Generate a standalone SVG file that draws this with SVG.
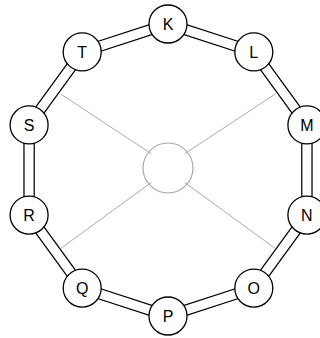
<svg xmlns="http://www.w3.org/2000/svg" width="320" height="338" viewBox="0 0 320 338">
<style>
.bg{fill:#fff}
.spoke{stroke:#aaaaaa;stroke-width:1;fill:none}
.hub{stroke:#aaaaaa;stroke-width:1.2;fill:none}
.eo{stroke:#000;stroke-width:11.5;fill:none}
.ei{stroke:#fff;stroke-width:9;fill:none}
.node circle{fill:#fff;stroke:#000;stroke-width:1.3}
.node text{font-family:"Liberation Sans",Arial,sans-serif;font-size:16px;text-anchor:middle;fill:#000}
</style>
<rect class="bg" x="0" y="0" width="320" height="338"/>
<g id="hub">
<circle class="hub" cx="168" cy="168" r="25"/>
</g>
<g id="spokes">
<line class="spoke" x1="60.7" y1="94" x2="151.5" y2="153.8"/>
<line class="spoke" x1="275.3" y1="94" x2="184.5" y2="153.8"/>
<line class="spoke" x1="61" y1="248.3" x2="151.5" y2="182.3"/>
<line class="spoke" x1="275" y1="248.3" x2="184.5" y2="182.3"/>
</g>
<g id="connectors">
<g><line class="eo" x1="168" y1="24" x2="253.8" y2="51.9"/><line class="ei" x1="168" y1="24" x2="253.8" y2="51.9"/></g>
<g><line class="eo" x1="253.8" y1="51.9" x2="306.9" y2="124.9"/><line class="ei" x1="253.8" y1="51.9" x2="306.9" y2="124.9"/></g>
<g><line class="eo" x1="306.9" y1="124.9" x2="306.9" y2="215.1"/><line class="ei" x1="306.9" y1="124.9" x2="306.9" y2="215.1"/></g>
<g><line class="eo" x1="306.9" y1="215.1" x2="253.8" y2="288.1"/><line class="ei" x1="306.9" y1="215.1" x2="253.8" y2="288.1"/></g>
<g><line class="eo" x1="253.8" y1="288.1" x2="168" y2="316"/><line class="ei" x1="253.8" y1="288.1" x2="168" y2="316"/></g>
<g><line class="eo" x1="168" y1="316" x2="82.2" y2="288.1"/><line class="ei" x1="168" y1="316" x2="82.2" y2="288.1"/></g>
<g><line class="eo" x1="82.2" y1="288.1" x2="29.1" y2="215.1"/><line class="ei" x1="82.2" y1="288.1" x2="29.1" y2="215.1"/></g>
<g><line class="eo" x1="29.1" y1="215.1" x2="29.1" y2="124.9"/><line class="ei" x1="29.1" y1="215.1" x2="29.1" y2="124.9"/></g>
<g><line class="eo" x1="29.1" y1="124.9" x2="82.2" y2="51.9"/><line class="ei" x1="29.1" y1="124.9" x2="82.2" y2="51.9"/></g>
<g><line class="eo" x1="82.2" y1="51.9" x2="168" y2="24"/><line class="ei" x1="82.2" y1="51.9" x2="168" y2="24"/></g>
</g>
<g id="K" class="node"><circle cx="168" cy="24" r="19"/><text x="168" y="29.8">K</text></g>
<g id="L" class="node"><circle cx="253.8" cy="51.9" r="19"/><text x="253.8" y="57.7">L</text></g>
<g id="M" class="node"><circle cx="306.9" cy="124.9" r="19"/><text x="306.9" y="130.7">M</text></g>
<g id="N" class="node"><circle cx="306.9" cy="215.1" r="19"/><text x="306.9" y="220.9">N</text></g>
<g id="O" class="node"><circle cx="253.8" cy="288.1" r="19"/><text x="253.8" y="293.9">O</text></g>
<g id="P" class="node"><circle cx="168" cy="316" r="19"/><text x="168" y="321.8">P</text></g>
<g id="Q" class="node"><circle cx="82.2" cy="288.1" r="19"/><text x="82.2" y="293.9">Q</text></g>
<g id="R" class="node"><circle cx="29.1" cy="215.1" r="19"/><text x="29.1" y="220.9">R</text></g>
<g id="S" class="node"><circle cx="29.1" cy="124.9" r="19"/><text x="29.1" y="130.7">S</text></g>
<g id="T" class="node"><circle cx="82.2" cy="51.9" r="19"/><text x="82.2" y="57.7">T</text></g>
</svg>
